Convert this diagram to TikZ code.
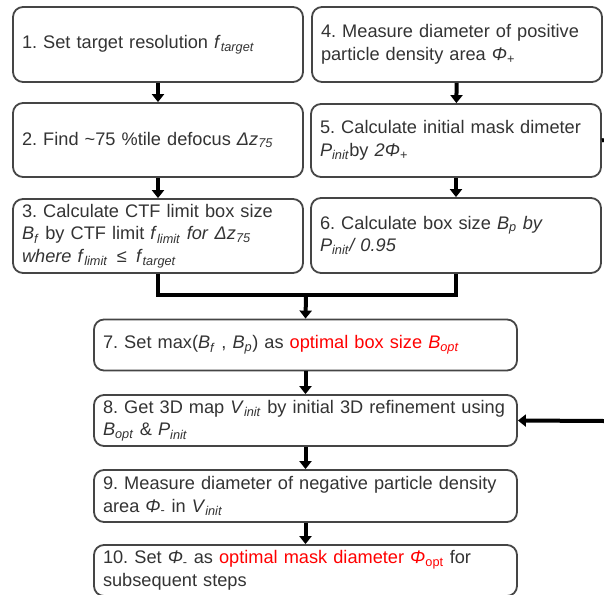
\documentclass[tikz,border=0pt]{standalone}
\usepackage{fontspec}
\setmainfont{Liberation Sans}
\usepackage{xcolor}
\usetikzlibrary{arrows.meta}
\definecolor{txtgray}{HTML}{333333}
\definecolor{boxgray}{HTML}{454545}
\newcommand{\isub}[2]{\textit{#1}\textsubscript{\textit{#2}}}
\frenchspacing
\hyphenpenalty=10000
\tikzset{
    stepbox/.style={draw=boxgray, line width=1.8pt, rounded corners=10pt,
        text=txtgray, align=left, inner xsep=9pt, inner ysep=0pt,
        font=\fontsize{18.2}{22.5}\selectfont},
    colbox/.style={stepbox, text width=272pt, minimum height=75pt},
    widebox/.style={stepbox, text width=405pt, minimum height=51pt},
    flow/.style={line width=4pt, -{Triangle[width=12pt,length=8pt]}},
    link/.style={line width=4pt}
}

\begin{document}
\begin{tikzpicture}[x=1pt, y=-1pt]
    \useasboundingbox (0,0) rectangle (604,594);

    % Left column
    \node[colbox] (b1) at (158,44.5) {1. Set target resolution \isub{f}{target}};
    \node[colbox, minimum height=74pt] (b2) at (158,140) {2. Find \textasciitilde75 \%tile defocus \isub{Δz}{75}};
    \node[colbox, minimum height=74pt] (b3) at (158,236) {3. Calculate CTF limit box size\\
        \isub{B}{f} by CTF limit \isub{f}{limit} \textit{for} \isub{Δz}{75}\\
        \textit{where} \isub{f}{limit} \,≤\, \isub{f}{target}};

    % Right column
    \node[colbox] (b4) at (457,44.5) {4. Measure diameter of positive\\
        particle density area \textit{Φ}\textsubscript{+}};
    \node[colbox, minimum height=73pt] (b5) at (456,140.5) {5. Calculate initial mask dimeter\\
        \isub{P}{init}by \textit{2Φ}\textsubscript{+}};
    \node[colbox] (b6) at (456,235.5) {6. Calculate box size \isub{B}{p} \textit{by}\\
        \isub{P}{init}\textit{/ 0.95}};

    % Lower chain
    \node[widebox] (b7) at (305.5,345) {7. Set max(\isub{B}{f} , \isub{B}{p}) as
        \textcolor{red}{optimal box size \isub{B}{opt}}};
    \node[widebox] (b8) at (305.5,420.5) {\mbox{8. Get 3D map \isub{V}{init} by initial 3D refinement using}\\
        \isub{B}{opt} \& \isub{P}{init}};
    \node[widebox, minimum height=52pt] (b9) at (305.5,496) {9. Measure diameter of negative particle density\\
        area \textit{Φ}\textsubscript{-} in \isub{V}{init}};
    \node[widebox] (b10) at (305.5,570.5) {10. Set \textit{Φ}\textsubscript{-} as
        \textcolor{red}{optimal mask diameter \textit{Φ}\textsubscript{opt}} for\\
        subsequent steps};

    % Column arrows
    \draw[flow] (b1) -- (b2);
    \draw[flow] (b2) -- (b3);
    \draw[flow] (b4) -- (b5);
    \draw[flow] (b5) -- (b6);

    % Merge into step 7
    \coordinate (join) at (306,295);
    \draw[link] (b3.south) -- (b3.south |- join) -- (b6.south |- join) -- (b6.south);
    \draw[flow] (join) -- (b7.north);

    % Chain arrows
    \draw[flow] (b7) -- (b8);
    \draw[flow] (b8) -- (b9);
    \draw[flow] (b9) -- (b10);

    % Side lines
    \coordinate (outA) at (604,140);
    \coordinate (outB) at (604,421);
    \draw[link] (b5.east) -- (outA);
    \draw[flow] (outB) -- (b8.east);
\end{tikzpicture}
\end{document}
